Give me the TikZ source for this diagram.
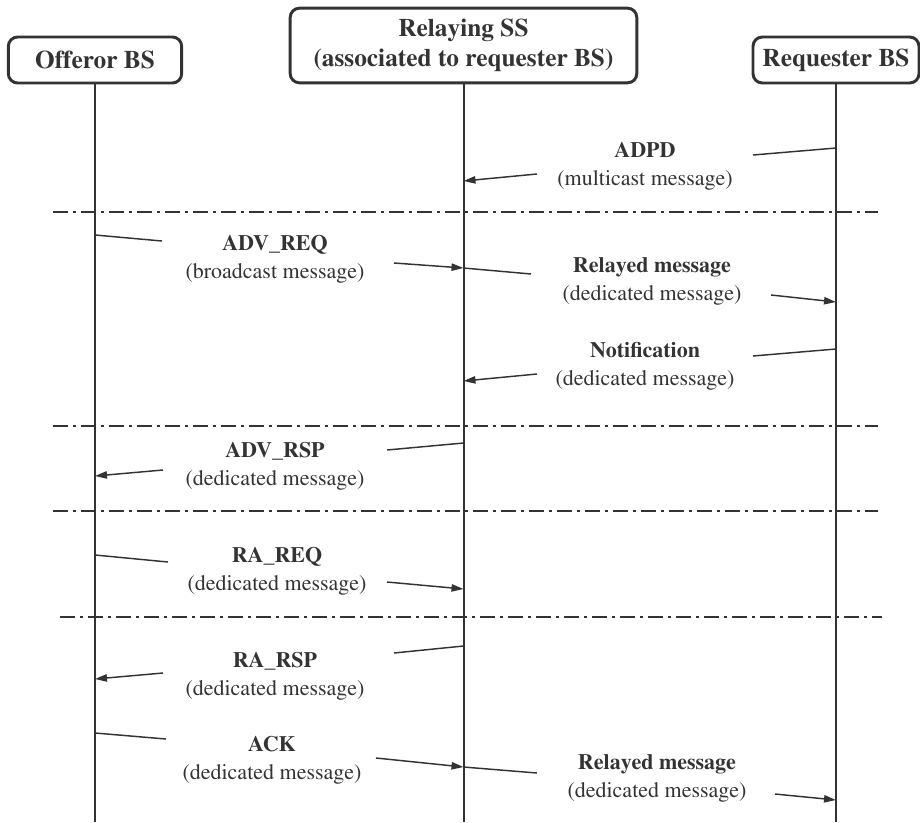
\documentclass[tikz,border=0pt]{standalone}
\usepackage[T1]{fontenc}
\usepackage{mathptmx}
\usetikzlibrary{arrows.meta}
\definecolor{ink}{HTML}{333333}

\begin{document}
\begin{tikzpicture}[x=0.75pt,y=-0.75pt]
      \tikzset{entity/.style={draw=ink,
          line width=2.2pt,
          rounded corners=7pt,
          text=ink,
          inner sep=0pt,
          align=center,
          font=\fontsize{19}{23}\selectfont\bfseries},
        msg/.style={text=ink, align=center, font=\fontsize{16.5}{21}\selectfont},
        lifeline/.style={draw=ink, line width=1.5pt},
        sendline/.style={draw=ink, line width=1.1pt},
        recvline/.style={sendline, -{Triangle[length=9pt,width=5.5pt]}},
        separator/.style={draw=ink, line width=1.1pt,
          dash pattern=on 11pt off 4pt on 2pt off 4pt}
      }
      \useasboundingbox (0,0) rectangle (920,822);
      \coordinate (bot) at (0,822);
      % entities
      \node [entity, minimum width=130pt, minimum height=34.5pt] (off) at (95,60) {Offeror BS};
      \node [entity, minimum width=260pt, minimum height=56pt] (rel) at (463.5,45.5) {Relaying SS\\(associated to requester BS)};
      \node [entity, minimum width=124.5pt, minimum height=34.5pt] (req) at (836,60) {Requester BS};
      \draw [lifeline] (off.south) -- (off.south |- bot);
      \draw [lifeline] (rel.south) -- (rel.south |- bot);
      \draw [lifeline] (req.south) -- (req.south |- bot);

      % separators
      \coordinate (s1a) at (53,212);  \coordinate (s1b) at (878,212);
      \coordinate (s2a) at (53,426);  \coordinate (s2b) at (878,426);
      \coordinate (s3a) at (53,511);  \coordinate (s3b) at (878,511);
      \coordinate (s4a) at (60,617);  \coordinate (s4b) at (882,617);
      \draw [separator] (s1a) -- (s1b);
      \draw [separator] (s2a) -- (s2b);
      \draw [separator] (s3a) -- (s3b);
      \draw [separator] (s4a) -- (s4b);

      % messages
      \node [msg] (adpd) at (645,166) {\textbf{ADPD}\\(multicast message)};
      \coordinate (adpd1) at (836,148); \coordinate (adpd2) at (753,155);
      \coordinate (adpd3) at (537,174); \coordinate (adpd4) at (463.5,181);
      \draw [sendline] (adpd1) -- (adpd2);
      \draw [recvline] (adpd3) -- (adpd4);

      \node [msg] (advreq) at (275,259) {\textbf{ADV\_REQ}\\(broadcast message)};
      \coordinate (advreq1) at (95,235); \coordinate (advreq2) at (162,241);
      \coordinate (advreq3) at (394,263); \coordinate (advreq4) at (463.5,268);
      \draw [sendline] (advreq1) -- (advreq2);
      \draw [recvline] (advreq3) -- (advreq4);

      \node [msg] (relay1) at (652,281) {\textbf{Relayed message}\\(dedicated message)};
      \coordinate (relay1a) at (531,274);
      \coordinate (relay1b) at (771,295); \coordinate (relay1c) at (836,302);
      \draw [sendline] (advreq4) -- (relay1a);
      \draw [recvline] (relay1b) -- (relay1c);

      \node [msg] (notif) at (645,366) {\textbf{Notification}\\(dedicated message)};
      \coordinate (notif1) at (836,349); \coordinate (notif2) at (753,356);
      \coordinate (notif3) at (537,374); \coordinate (notif4) at (463.5,381);
      \draw [sendline] (notif1) -- (notif2);
      \draw [recvline] (notif3) -- (notif4);

      \node [msg] (advrsp) at (275,466) {\textbf{ADV\_RSP}\\(dedicated message)};
      \coordinate (advrsp1) at (463.5,443); \coordinate (advrsp2) at (387,450);
      \coordinate (advrsp3) at (163,470); \coordinate (advrsp4) at (95,476);
      \draw [sendline] (advrsp1) -- (advrsp2);
      \draw [recvline] (advrsp3) -- (advrsp4);

      \node [msg] (rareq) at (277,571) {\textbf{RA\_REQ}\\(dedicated message)};
      \coordinate (rareq1) at (95,555); \coordinate (rareq2) at (168,562);
      \coordinate (rareq3) at (387,582); \coordinate (rareq4) at (463.5,589);
      \draw [sendline] (rareq1) -- (rareq2);
      \draw [recvline] (rareq3) -- (rareq4);

      \node [msg] (rarsp) at (275,676) {\textbf{RA\_RSP}\\(dedicated message)};
      \coordinate (rarsp1) at (463.5,646); \coordinate (rarsp2) at (394,653);
      \coordinate (rarsp3) at (163,673); \coordinate (rarsp4) at (95,679);
      \draw [sendline] (rarsp1) -- (rarsp2);
      \draw [recvline] (rarsp3) -- (rarsp4);

      \node [msg] (ack) at (272,760) {\textbf{ACK}\\(dedicated message)};
      \coordinate (ack1) at (95,733); \coordinate (ack2) at (166,739);
      \coordinate (ack3) at (376,758); \coordinate (ack4) at (463.5,767);
      \draw [sendline] (ack1) -- (ack2);
      \draw [recvline] (ack3) -- (ack4);

      \node [msg] (relay2) at (657,778) {\textbf{Relayed message}\\(dedicated message)};
      \coordinate (relay2a) at (537,773);
      \coordinate (relay2b) at (775,794); \coordinate (relay2c) at (836,800);
      \draw [sendline] (ack4) -- (relay2a);
      \draw [recvline] (relay2b) -- (relay2c);

    \end{tikzpicture}
\end{document}
